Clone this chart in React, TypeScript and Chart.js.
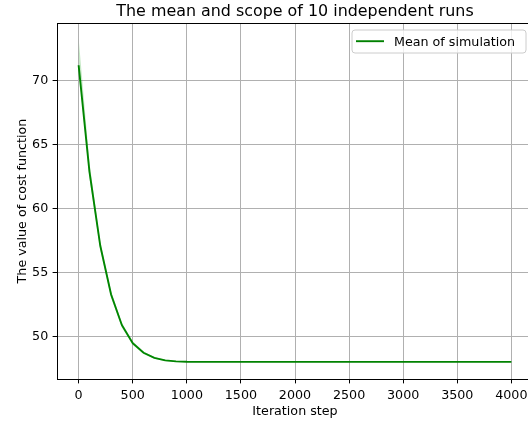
import React, { useEffect, useRef } from "react";
import { Chart, registerables } from "chart.js";

Chart.register(...registerables);

const steps = [
  0, 100, 200, 300, 400, 500, 600, 700, 800, 900, 1000, 1100, 1200, 1300, 1400,
  1500, 1600, 1700, 1800, 1900, 2000, 2100, 2200, 2300, 2400, 2500, 2600, 2700,
  2800, 2900, 3000, 3100, 3200, 3300, 3400, 3500, 3600, 3700, 3800, 3900, 4000,
];
const meanCost = [
  71.2, 62.9, 57.1, 53.3, 50.9, 49.5, 48.75, 48.35, 48.15, 48.08, 48.05, 48.04,
  48.04, 48.04, 48.04, 48.04, 48.04, 48.04, 48.04, 48.04, 48.04, 48.04, 48.04,
  48.04, 48.04, 48.04, 48.04, 48.04, 48.04, 48.04, 48.04, 48.04, 48.04, 48.04,
  48.04, 48.04, 48.04, 48.04, 48.04, 48.04, 48.04,
];
const maxCost = [
  73.3, 63.6, 57.4, 53.55, 51.1, 49.65, 48.85, 48.42, 48.2, 48.11, 48.07, 48.06,
  48.06, 48.06, 48.06, 48.06, 48.06, 48.06, 48.06, 48.06, 48.06, 48.06, 48.06,
  48.06, 48.06, 48.06, 48.06, 48.06, 48.06, 48.06, 48.06, 48.06, 48.06, 48.06,
  48.06, 48.06, 48.06, 48.06, 48.06, 48.06, 48.06,
];
const minCost = [
  70.9, 62.4, 56.8, 53.05, 50.7, 49.35, 48.65, 48.28, 48.1, 48.05, 48.03, 48.02,
  48.02, 48.02, 48.02, 48.02, 48.02, 48.02, 48.02, 48.02, 48.02, 48.02, 48.02,
  48.02, 48.02, 48.02, 48.02, 48.02, 48.02, 48.02, 48.02, 48.02, 48.02, 48.02,
  48.02, 48.02, 48.02, 48.02, 48.02, 48.02, 48.02,
];
const xTicks = [0, 500, 1000, 1500, 2000, 2500, 3000, 3500, 4000];
const yTicks = [50, 55, 60, 65, 70];

const TITLE = "The mean and scope of 10 independent runs";
const LEGEND_LABEL = "Mean of simulation";
const FONT = "'DejaVu Sans', sans-serif";
const FS = 12.7;

const W = 545;
const H = 423;

export default function App() {
  const ref = useRef<HTMLCanvasElement | null>(null);

  useEffect(() => {
    if (!ref.current) return;
    const decor = {
      id: "decor",
      afterDraw(chart: any) {
        const { ctx, chartArea } = chart;
        ctx.save();
        // top spine
        ctx.strokeStyle = "#000";
        ctx.lineWidth = 1;
        ctx.beginPath();
        ctx.moveTo(chartArea.left, chartArea.top + 0.5);
        ctx.lineTo(chartArea.right, chartArea.top + 0.5);
        ctx.stroke();
        // title
        ctx.fillStyle = "#000";
        ctx.font = `15.9px ${FONT}`;
        ctx.textAlign = "center";
        ctx.textBaseline = "alphabetic";
        ctx.fillText(TITLE, (chartArea.left + chartArea.right) / 2, 15.8);
        // legend
        const bx = 352, by = 30, bw = 174, bh = 23, r = 3;
        ctx.beginPath();
        ctx.moveTo(bx + r, by);
        ctx.lineTo(bx + bw - r, by);
        ctx.quadraticCurveTo(bx + bw, by, bx + bw, by + r);
        ctx.lineTo(bx + bw, by + bh - r);
        ctx.quadraticCurveTo(bx + bw, by + bh, bx + bw - r, by + bh);
        ctx.lineTo(bx + r, by + bh);
        ctx.quadraticCurveTo(bx, by + bh, bx, by + bh - r);
        ctx.lineTo(bx, by + r);
        ctx.quadraticCurveTo(bx, by, bx + r, by);
        ctx.closePath();
        ctx.fillStyle = "rgba(255,255,255,0.8)";
        ctx.fill();
        ctx.strokeStyle = "#cccccc";
        ctx.lineWidth = 1;
        ctx.stroke();
        ctx.strokeStyle = "#008000";
        ctx.lineWidth = 1.9;
        ctx.beginPath();
        ctx.moveTo(356, 41.2);
        ctx.lineTo(384, 41.2);
        ctx.stroke();
        ctx.fillStyle = "#000";
        ctx.font = `${FS}px ${FONT}`;
        ctx.textAlign = "left";
        ctx.fillText(LEGEND_LABEL, 394, 45.5);
        ctx.restore();
      },
    };

    const tickFont = { family: FONT, size: FS };

    const chart = new Chart(ref.current, {
      type: "line",
      data: {
        datasets: [
          {
            label: "min",
            data: steps.map((s, i) => ({ x: s, y: minCost[i] })),
            borderWidth: 0,
            borderColor: "rgba(0,0,0,0)",
            pointRadius: 0,
            fill: false,
          },
          {
            label: "max",
            data: steps.map((s, i) => ({ x: s, y: maxCost[i] })),
            borderWidth: 0,
            borderColor: "rgba(0,0,0,0)",
            backgroundColor: "rgba(0,160,0,0.22)",
            pointRadius: 0,
            fill: "-1",
          },
          {
            label: LEGEND_LABEL,
            data: steps.map((s, i) => ({ x: s, y: meanCost[i] })),
            borderColor: "#008000",
            borderWidth: 1.9,
            pointRadius: 0,
            fill: false,
          },
        ],
      },
      options: {
        responsive: false,
        animation: false,
        devicePixelRatio: 1,
        layout: { padding: { left: 0, right: 12, top: 23, bottom: 0 } },
        plugins: {
          legend: { display: false },
          title: { display: false },
          tooltip: { enabled: false },
        },
        elements: { line: { tension: 0 } },
        scales: {
          x: {
            type: "linear",
            min: -200,
            max: 4200,
            afterBuildTicks: (axis: any) => {
              axis.ticks = xTicks.map((v) => ({ value: v }));
            },
            afterFit: (scale: any) => {
              scale.height = 44;
            },
            grid: {
              color: "#b0b0b0",
              lineWidth: 1,
              tickLength: 4.4,
              tickColor: "#000",
            },
            border: { display: true, color: "#000", width: 1 },
            ticks: {
              color: "#000",
              font: tickFont,
              padding: 4.4,
              maxRotation: 0,
              autoSkip: false,
              callback: (v: any) => String(v),
            },
            title: {
              display: true,
              text: "Iteration step",
              color: "#000",
              font: tickFont,
              padding: { top: 0, bottom: 3.4 },
            },
          },
          y: {
            type: "linear",
            min: 46.7,
            max: 74.5,
            afterBuildTicks: (axis: any) => {
              axis.ticks = yTicks.map((v) => ({ value: v }));
            },
            afterFit: (scale: any) => {
              scale.width = 57;
            },
            grid: {
              color: "#b0b0b0",
              lineWidth: 1,
              tickLength: 4.4,
              tickColor: "#000",
            },
            border: { display: true, color: "#000", width: 1 },
            ticks: {
              color: "#000",
              font: tickFont,
              padding: 4.4,
              autoSkip: false,
              callback: (v: any) => String(v),
            },
            title: {
              display: true,
              text: "The value of cost function",
              color: "#000",
              font: tickFont,
              padding: { top: 15.4, bottom: 0 },
            },
          },
        },
      },
      plugins: [decor],
    });
    return () => chart.destroy();
  }, []);

  return (
    <div
      style={{
        position: "absolute",
        left: 0,
        top: 0,
        width: 528,
        height: 423,
        overflow: "hidden",
        background: "#fff",
      }}
    >
      <canvas ref={ref} width={W} height={H} style={{ width: W, height: H, display: "block" }} />
    </div>
  );
}
